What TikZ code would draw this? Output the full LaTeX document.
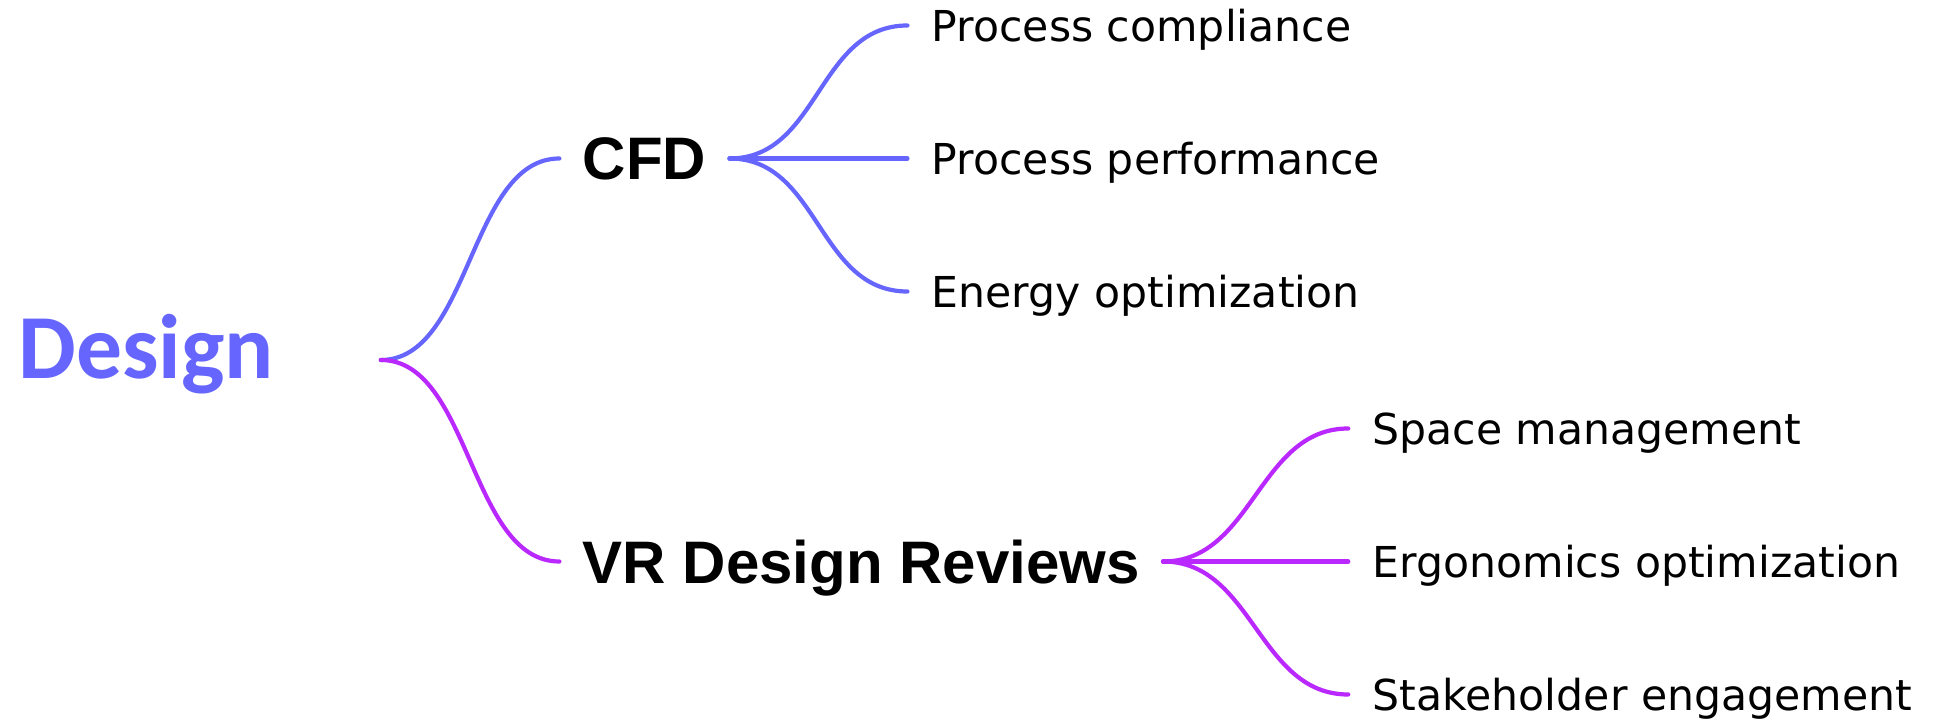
\documentclass[tikz,border=0pt]{standalone}
\usepackage{fontspec}
\usepackage{tikz}
\setmainfont{DejaVu Sans}
\newfontfamily\designfont{Carlito}
\newfontfamily\topicfont{Liberation Sans}
\newfontfamily\leaffont{DejaVu Sans}

\definecolor{designblue}{RGB}{102,102,255}
\definecolor{reviewviolet}{RGB}{185,40,255}

\begin{document}
\begin{tikzpicture}
		[x=0.5pt,y=-0.5pt,line cap=round,
		%Styles
		root/.style={font=\designfont\bfseries\fontsize{45.8pt}{50pt}\selectfont,text=designblue,
			anchor=west,inner sep=0pt,text width=181pt,align=left,text height=29.5pt,text depth=10.5pt},
		topic/.style={font=\topicfont\bfseries\fontsize{30pt}{34pt}\selectfont,
			anchor=west,inner xsep=11.5pt,inner ysep=0pt,text height=21.5pt,text depth=0pt},
		leaf/.style={font=\leaffont\fontsize{21.3pt}{25pt}\selectfont,
			anchor=west,inner xsep=12pt,inner ysep=0pt,text height=15.6pt,text depth=0pt},
		blue branch/.style={edge from parent/.append style={draw=designblue}},
		violet branch/.style={edge from parent/.append style={draw=reviewviolet}},
		far leaf/.style={level distance=243.5pt},
		edge from parent/.style={draw,line width=2.1pt},
		edge from parent path={(\tikzparentnode.east) .. controls +(90,0) and +(-90,0) .. (\tikzchildnode.west)},
		grow'=right,
		level 1/.style={level distance=180pt,sibling distance=201.5pt},
		level 2/.style={level distance=131.5pt,sibling distance=66.5pt}
		]
		
		%Colors
		\useasboundingbox (0,0) rectangle (1934,721);
		
		%The graphic
		
		\node[root] (design) at (18,360) {Design}
			child[blue branch]{ node[topic] (cfd) {CFD}
				child{ node[leaf] (compliance) {Process compliance} }
				child{ node[leaf] (performance) {Process performance} }
				child{ node[leaf] (energy) {Energy optimization} }
			}
			child[violet branch]{ node[topic] (vr) {VR Design Reviews}
				child[far leaf]{ node[leaf] (space) {Space management} }
				child[far leaf]{ node[leaf] (ergonomics) {Ergonomics optimization} }
				child[far leaf]{ node[leaf] (stakeholder) {Stakeholder engagement} }
			};
	\end{tikzpicture}
\end{document}
